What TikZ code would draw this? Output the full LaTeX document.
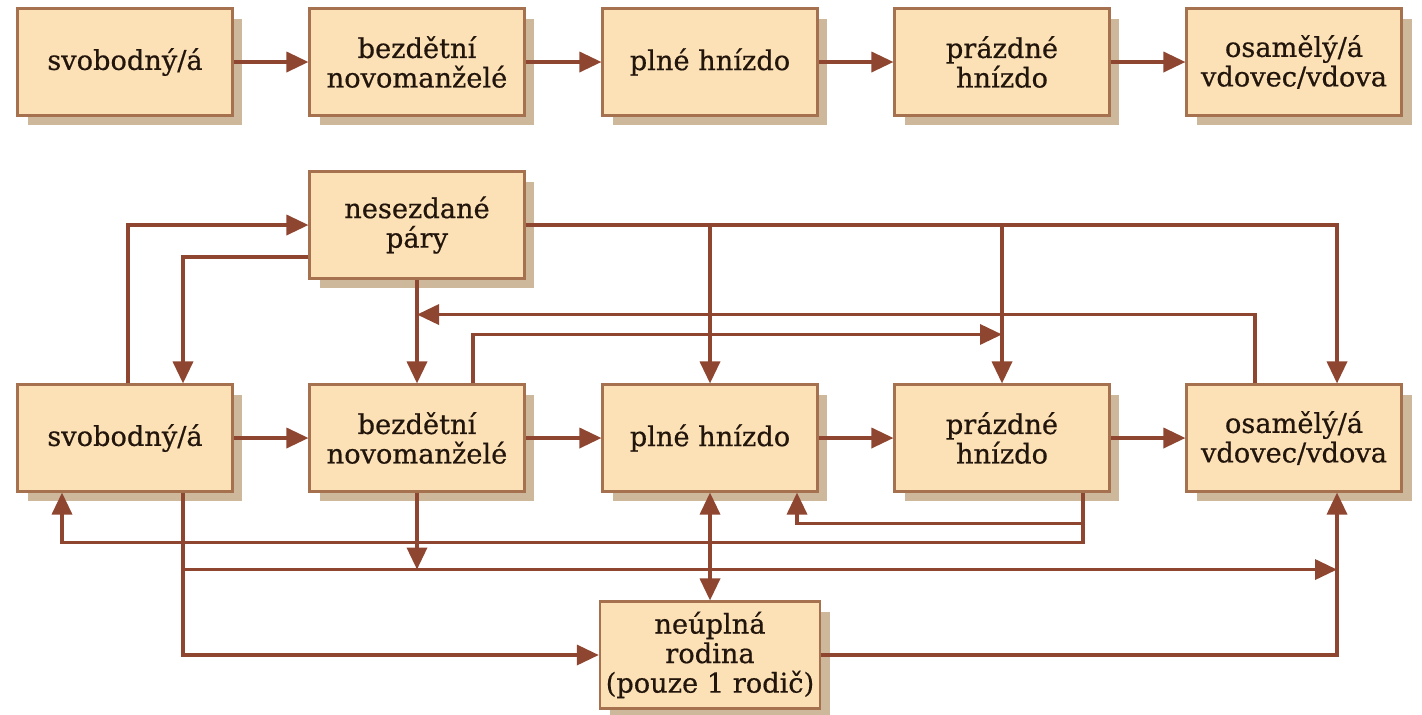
\documentclass[tikz,border=0pt]{standalone}
\usepackage{fontspec}
\setmainfont{DejaVu Serif}[FakeBold=0.6]
\usetikzlibrary{arrows.meta,positioning,calc,shadows}

\definecolor{boxfill}{HTML}{FCE1B7}
\definecolor{boxline}{HTML}{A5714E}
\definecolor{boxshade}{HTML}{CDB89C}
\definecolor{linkcol}{HTML}{8F4631}
\definecolor{inkcol}{HTML}{22150C}

\tikzset{
  stage/.style={draw=boxline, line width=1.2pt, fill=boxfill,
    minimum width=4.3cm, minimum height=2.14cm, align=center,
    text=inkcol, font=\fontsize{15.5}{16.8}\selectfont,
    drop shadow={shadow xshift=0.2cm, shadow yshift=-0.2cm, fill=boxshade, opacity=1}},
  link/.style={draw=linkcol, line width=2pt},
  >={Triangle[length=0.44cm, width=0.4cm]}
}

\begin{document}
\begin{tikzpicture}[x=0.02cm, y=-0.02cm]
    \useasboundingbox (0,0) rectangle (1422,714);

    % simple cycle
    \node[stage] (s1) at (125,62)  {svobodný/á};
    \node[stage] (b1) at (417,62)  {bezdětní\\novomanželé};
    \node[stage] (p1) at (710,62)  {plné hnízdo};
    \node[stage] (z1) at (1002,62) {prázdné\\hnízdo};
    \node[stage] (o1) at (1294,62) {osamělý/á\\vdovec/vdova};

    \draw[link, ->] (s1) -- (b1);
    \draw[link, ->] (b1) -- (p1);
    \draw[link, ->] (p1) -- (z1);
    \draw[link, ->] (z1) -- (o1);

    % modern cycle
    \node[stage] (ns) at (417,225)  {nesezdané\\páry};
    \node[stage] (s2) at (125,438)  {svobodný/á};
    \node[stage] (b2) at (417,438)  {bezdětní\\novomanželé};
    \node[stage] (p2) at (710,438)  {plné hnízdo};
    \node[stage] (z2) at (1002,438) {prázdné\\hnízdo};
    \node[stage] (o2) at (1294,438) {osamělý/á\\vdovec/vdova};
    \node[stage] (nu) at (710,655)  {neúplná\\rodina\\(pouze 1 rodič)};

    \draw[link, ->] (s2) -- (b2);
    \draw[link, ->] (b2) -- (p2);
    \draw[link, ->] (p2) -- (z2);
    \draw[link, ->] (z2) -- (o2);

    % around the couples box
    \draw[link, ->] ($(s2.north)+(3,0)$) |- (ns.west);
    \draw[link, ->] ($(ns.west)+(0,32)$) -| ($(s2.north)+(58,0)$);
    \draw[link, ->] (ns.south) -- (b2.north);
    \draw[link, ->] (ns.east) -| ($(o2.north)+(43,0)$);
    \draw[link, ->] (ns.east -| p2.north) -- (p2.north);
    \draw[link, ->] (ns.east -| z2.north) -- (z2.north);
    \draw[link, ->] ($(o2.north)+(-39,0)$) |- ($(ns.south)+(0,35)$);
    \draw[link, ->] ($(b2.north)+(56,0)$) |- ($(z2.north)+(0,-49)$);

    % lower lines
    \draw[link, ->] ($(z2.south)+(81,0)$) |- ($(s2.south)+(-63,50)$) -- ($(s2.south)+(-63,0)$);
    \draw[link, ->] ($(z2.south)+(81,31)$) -| ($(p2.south)+(87,0)$);
    \draw[link, ->] (b2.south) -- ($(b2.south)+(0,77)$);
    \draw[link, ->] ($(s2.south)+(58,77)$) -- ($(o2.south)+(43,77)$);
    \draw[link, ->] ($(s2.south)+(58,0)$) |- (nu.west);
    \draw[link, ->] (nu.east) -| ($(o2.south)+(43,0)$);
    \draw[link, <->] (p2.south) -- (nu.north);
\end{tikzpicture}
\end{document}
